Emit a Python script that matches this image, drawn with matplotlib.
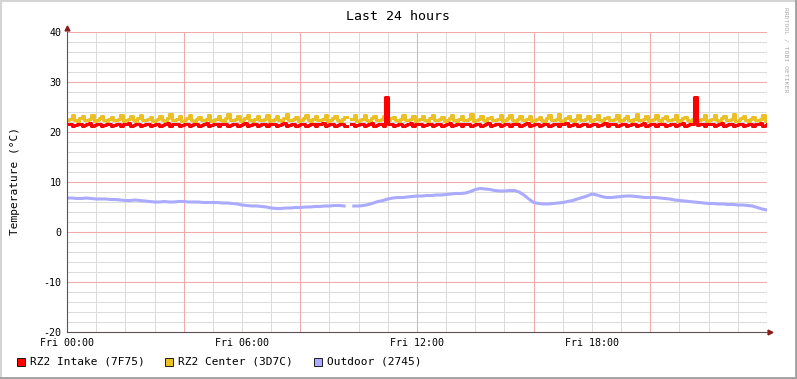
import matplotlib
matplotlib.use("Agg")
import matplotlib.pyplot as plt
import numpy as np
from matplotlib.lines import Line2D
from matplotlib.patches import Rectangle

nan = np.nan

# RZ2 Center - 5 minute samples (one row = one hour), Fri 00:00 .. Sat 00:00
center = [
    22.4, 22.7, 23.4, 22.5, 22.3, 22.8, 23.2, 22.4, 22.5, 22.6, 23.5, 22.3,
    22.4, 22.8, 23.3, 22.5, 22.3, 22.6, 23.1, 22.4, 22.5, 22.7, 23.4, 22.3,
    22.4, 22.6, 23.2, 22.5, 22.3, 22.8, 23.5, 22.4, 22.4, 22.7, 23.0, 22.3,
    22.5, 22.6, 23.3, 22.4, 22.3, 22.8, 23.6, 22.5, 22.4, 22.7, 23.2, 22.3,
    22.4, 22.8, 23.4, 22.5, 22.3, 22.6, 23.1, 22.4, 22.5, 22.7, 23.5, 22.3,
    22.4, 22.6, 23.2, 22.5, 22.3, 22.8, 23.6, 22.4, 22.5, 22.7, 23.3, 22.3,
    22.4, 22.8, 23.5, 22.5, 22.3, 22.6, 23.2, 22.4, 22.5, 22.7, 23.4, 22.3,
    22.4, 22.6, 23.3, 22.5, 22.3, 22.8, 23.6, 22.4, 22.4, 22.7, 23.1, 22.3,
    22.5, 22.8, 23.4, 22.4, 22.3, 22.6, 23.2, 22.5, 22.4, 22.7, 23.5, 22.3,
    22.4, 22.8, 23.3, 22.5, 22.3, 22.6, 23.1, nan, nan, 22.6, 23.4, 22.3,
    22.4, 22.6, 23.5, 22.5, 22.3, 22.8, 23.2, 22.4, 22.5, 22.7, 23.3, 22.3,
    22.4, 22.8, 23.1, 22.5, 22.3, 22.6, 23.4, 22.4, 22.5, 22.7, 23.2, 22.3,
    22.4, 22.6, 23.3, 22.5, 22.3, 22.8, 23.5, 22.4, 22.4, 22.7, 23.1, 22.3,
    22.5, 22.8, 23.4, 22.4, 22.3, 22.6, 23.2, 22.5, 22.4, 22.7, 23.6, 22.3,
    22.4, 22.6, 23.3, 22.5, 22.3, 22.8, 23.1, 22.4, 22.5, 22.7, 23.4, 22.3,
    22.4, 22.8, 23.5, 22.5, 22.3, 22.6, 23.2, 22.4, 22.5, 22.7, 23.3, 22.3,
    22.4, 22.6, 23.1, 22.5, 22.3, 22.8, 23.4, 22.4, 22.4, 22.7, 23.6, 22.3,
    22.5, 22.8, 23.2, 22.4, 22.3, 22.6, 23.5, 22.5, 22.4, 22.7, 23.3, 22.3,
    22.4, 22.6, 23.4, 22.5, 22.3, 22.8, 23.1, 22.4, 22.5, 22.7, 23.5, 22.3,
    22.4, 22.8, 23.2, 22.5, 22.3, 22.6, 23.6, 22.4, 22.5, 22.7, 23.3, 22.3,
    22.4, 22.6, 23.5, 22.5, 22.3, 22.8, 23.2, 22.4, 22.4, 22.7, 23.4, 22.3,
    22.5, 22.8, 23.1, 22.4, 22.3, 22.6, 23.3, 22.5, 22.4, 22.7, 23.5, 22.3,
    22.4, 22.6, 23.4, 22.5, 22.3, 22.8, 23.2, 22.4, 22.5, 22.7, 23.6, 22.3,
    22.4, 22.8, 23.3, 22.5, 22.3, 22.6, 23.1, 22.4, 22.5, 22.7, 23.4, 22.3,
    22.4,
]

# RZ2 Intake - 5 minute samples
intake = [
    21.6, 21.7, 21.3, 21.5, 21.6, 21.7, 21.2, 21.5, 21.6, 21.8, 21.3, 21.5,
    21.6, 21.7, 21.2, 21.5, 21.7, 21.6, 21.3, 21.5, 21.6, 21.7, 21.2, 21.6,
    21.6, 21.8, 21.3, 21.5, 21.6, 21.7, 21.2, 21.5, 21.7, 21.6, 21.3, 21.5,
    21.6, 21.7, 21.2, 21.5, 21.6, 21.8, 21.3, 21.6, 21.6, 21.7, 21.2, 21.5,
    21.7, 21.6, 21.3, 21.5, 21.6, 21.7, 21.2, 21.5, 21.6, 21.8, 21.3, 21.5,
    21.6, 21.7, 21.2, 21.6, 21.6, 21.7, 21.3, 21.5, 21.7, 21.6, 21.2, 21.5,
    21.6, 21.8, 21.3, 21.5, 21.6, 21.7, 21.2, 21.5, 21.6, 21.7, 21.3, 21.6,
    21.7, 21.6, 21.2, 21.5, 21.6, 21.8, 21.3, 21.5, 21.6, 21.7, 21.2, 21.5,
    21.6, 21.7, 21.3, 21.5, 21.7, 21.6, 21.2, 21.6, 21.6, 21.8, 21.3, 21.5,
    21.6, 21.7, 21.2, 21.5, 21.6, 21.7, 21.3, nan, nan, 21.6, 21.2, 21.5,
    21.7, 21.6, 21.3, 21.5, 21.6, 21.8, 21.2, 21.5, 21.6, 21.7, 21.3, 27.0,
    21.6, 21.7, 21.2, 21.5, 21.7, 21.6, 21.3, 21.5, 21.6, 21.8, 21.2, 21.6,
    21.6, 21.7, 21.3, 21.5, 21.6, 21.7, 21.2, 21.5, 21.7, 21.6, 21.3, 21.5,
    21.6, 21.8, 21.2, 21.5, 21.6, 21.7, 21.3, 21.6, 21.6, 21.7, 21.2, 21.5,
    21.7, 21.6, 21.3, 21.5, 21.6, 21.8, 21.2, 21.5, 21.6, 21.7, 21.3, 21.5,
    21.6, 21.7, 21.2, 21.6, 21.7, 21.6, 21.3, 21.5, 21.6, 21.8, 21.2, 21.5,
    21.6, 21.7, 21.3, 21.5, 21.6, 21.7, 21.2, 21.5, 21.7, 21.6, 21.3, 21.6,
    21.6, 21.8, 21.2, 21.5, 21.6, 21.7, 21.3, 21.5, 21.6, 21.7, 21.2, 21.5,
    21.7, 21.6, 21.3, 21.5, 21.6, 21.8, 21.2, 21.6, 21.6, 21.7, 21.3, 21.5,
    21.6, 21.7, 21.2, 21.5, 21.7, 21.6, 21.3, 21.5, 21.6, 21.8, 21.2, 21.5,
    21.6, 21.7, 21.3, 21.6, 21.6, 21.7, 21.2, 21.5, 21.7, 21.6, 21.3, 21.5,
    21.6, 21.8, 21.2, 21.5, 21.6, 21.7, 27.0, 21.5, 21.6, 21.7, 21.2, 21.6,
    21.7, 21.6, 21.3, 21.5, 21.6, 21.8, 21.2, 21.5, 21.6, 21.7, 21.3, 21.5,
    21.6, 21.7, 21.2, 21.5, 21.7, 21.6, 21.3, 21.6, 21.6, 21.8, 21.2, 21.5,
    21.6,
]

# Outdoor - 10 minute samples (one row = one hour)
outdoor = [
    6.8, 6.8, 6.7, 6.7, 6.8, 6.7,
    6.6, 6.6, 6.6, 6.5, 6.5, 6.4,
    6.3, 6.3, 6.4, 6.3, 6.2, 6.1,
    6.0, 6.0, 6.1, 6.0, 6.0, 6.1,
    6.1, 6.0, 6.0, 6.0, 5.9, 5.9,
    5.9, 5.9, 5.8, 5.8, 5.7, 5.6,
    5.4, 5.3, 5.2, 5.2, 5.1, 5.0,
    4.8, 4.7, 4.7, 4.8, 4.8, 4.9,
    4.9, 5.0, 5.0, 5.1, 5.1, 5.2,
    5.2, 5.3, 5.3, 5.2, nan, 5.2,
    5.2, 5.3, 5.5, 5.8, 6.1, 6.3,
    6.6, 6.8, 6.9, 6.9, 7.0, 7.1,
    7.2, 7.2, 7.3, 7.3, 7.4, 7.4,
    7.5, 7.6, 7.7, 7.7, 7.8, 8.1,
    8.5, 8.7, 8.6, 8.5, 8.3, 8.2,
    8.2, 8.3, 8.3, 8.0, 7.4, 6.6,
    5.9, 5.7, 5.6, 5.6, 5.7, 5.8,
    5.9, 6.1, 6.3, 6.6, 6.9, 7.2,
    7.6, 7.4, 7.1, 6.9, 6.9, 7.0,
    7.1, 7.2, 7.2, 7.1, 7.0, 6.9,
    6.9, 6.9, 6.8, 6.7, 6.6, 6.4,
    6.3, 6.2, 6.1, 6.0, 5.9, 5.8,
    5.7, 5.7, 5.6, 5.6, 5.5, 5.5,
    5.4, 5.4, 5.3, 5.2, 4.9, 4.6,
    4.4,
]

labels = ['RZ2 Intake (7F75)', 'RZ2 Center (3D7C)', 'Outdoor (2745)']
colors = ['#FF0000', '#EBC024', '#AAAAFF']
xtick_hours = [0, 6, 12, 18]
xtick_labels = ['Fri 00:00', 'Fri 06:00', 'Fri 12:00', 'Fri 18:00']

mono = 'DejaVu Sans Mono'
W, H = 797, 379

fig = plt.figure(figsize=(W / 100, H / 100), dpi=100)
fig.patch.set_facecolor('white')
ax = fig.add_axes([67 / W, 47 / H, 700 / W, 300 / H])
ax.set_facecolor('white')

# grid: minor grey, major red
for h in range(1, 25):
    ax.axvline(h, color='#DCDCDC', lw=0.75, zorder=0)
for v in range(-18, 41, 2):
    ax.axhline(v, color='#DCDCDC', lw=0.75, zorder=0)
for h in range(4, 25, 4):
    ax.axvline(h, color='#F2AAAA', lw=0.75, zorder=1)
for v in range(-10, 41, 10):
    ax.axhline(v, color='#F2AAAA', lw=0.75, zorder=1)

t5 = np.arange(len(center)) / 12.0
t10 = np.arange(len(outdoor)) / 6.0

ax.plot(t10, outdoor, color=colors[2], lw=2.2, zorder=3)
ax.plot(t5, center, color=colors[1], lw=2.2, drawstyle='steps-post', zorder=4)
ax.plot(t5, intake, color=colors[0], lw=2.2, drawstyle='steps-post', zorder=5)

ax.set_xlim(0, 24)
ax.set_ylim(-20, 40)
ax.set_xticks(xtick_hours)
ax.set_xticklabels(xtick_labels, fontfamily=mono, fontsize=7.2)
ax.set_yticks(range(-20, 41, 10))
ax.set_yticklabels([str(v) for v in range(-20, 41, 10)], fontfamily=mono, fontsize=7.2)
ax.tick_params(axis='both', length=0, pad=4)

for s in ['top', 'right']:
    ax.spines[s].set_visible(False)
for s in ['left', 'bottom']:
    ax.spines[s].set_color('#605050')
    ax.spines[s].set_linewidth(0.8)
    ax.spines[s].set_zorder(6)

# axis arrows
ax.plot([0], [1.012], marker='^', color='#8B1A1A', markersize=3.5,
        transform=ax.transAxes, clip_on=False)
ax.plot([1.004], [0], marker='>', color='#8B1A1A', markersize=3.5,
        transform=ax.transAxes, clip_on=False)

fig.text(398 / W, 1 - 16 / H, 'Last 24 hours', ha='center', va='center',
         fontfamily=mono, fontsize=9.5)
fig.text(15 / W, 1 - 181 / H, 'Temperature (°C)', rotation=90, ha='center',
         va='center', fontfamily=mono, fontsize=8)
fig.text(786 / W, 1 - 7 / H, 'RRDTOOL / TOBI OETIKER', rotation=270, ha='center',
         va='top', fontfamily=mono, fontsize=4.6, color='#A8A8A8')

# legend
box_x = [17, 165, 314]
text_x = [30, 178, 327]
for bx, tx, c, lab in zip(box_x, text_x, colors, labels):
    fig.add_artist(Rectangle((bx / W, 1 - 366 / H), 8 / W, 8 / H,
                             facecolor=c, edgecolor='black', lw=0.6,
                             transform=fig.transFigure))
    fig.text(tx / W, 1 - 361.5 / H, lab, ha='left', va='center',
             fontfamily=mono, fontsize=8)

# image border
fig.add_artist(Line2D([0, 1], [1 - 0.5 / H, 1 - 0.5 / H], color='#D4D4D4', lw=1.5,
                      transform=fig.transFigure))
fig.add_artist(Line2D([0.5 / W, 0.5 / W], [0, 1], color='#D4D4D4', lw=1.5,
                      transform=fig.transFigure))
fig.add_artist(Line2D([0, 1], [1 / H, 1 / H], color='#A0A0A0', lw=2,
                      transform=fig.transFigure))
fig.add_artist(Line2D([1 - 1 / W, 1 - 1 / W], [0, 1], color='#A0A0A0', lw=2,
                      transform=fig.transFigure))

fig.savefig('out.png', dpi=100)
